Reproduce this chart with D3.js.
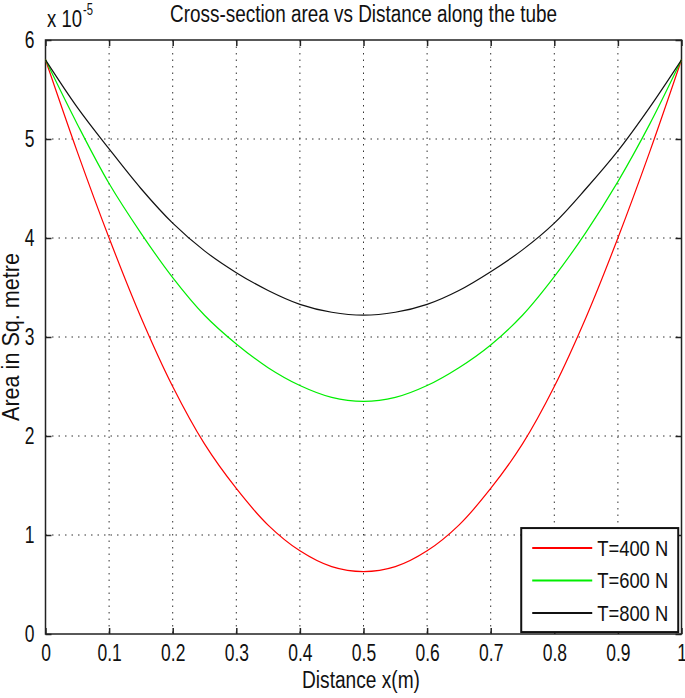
<!DOCTYPE html>
<html>
<head>
<meta charset="utf-8">
<script src="https://cdn.jsdelivr.net/npm/d3@7"></script>
<style>
  body { margin: 0; background: #fff; }
  svg text { font-family: "Liberation Sans", Arial, sans-serif; fill: #111; }
</style>
</head>
<body>
<div id="chart"></div>
<script>
// distance along the tube (m)
var distance = [0, 0.05, 0.1, 0.15, 0.2, 0.25, 0.3, 0.35, 0.4, 0.45, 0.5,
                0.55, 0.6, 0.65, 0.7, 0.75, 0.8, 0.85, 0.9, 0.95, 1];

// area values, in units of 1e-5 sq. metre
var areaT400 = [5.8, 4.87, 4.0, 3.2, 2.5, 1.92, 1.47, 1.1, 0.84, 0.68, 0.63,
                0.68, 0.84, 1.1, 1.47, 1.92, 2.5, 3.2, 4.0, 4.87, 5.8];
var areaT600 = [5.8, 5.15, 4.55, 4.05, 3.6, 3.22, 2.93, 2.69, 2.51, 2.39, 2.35,
                2.39, 2.51, 2.69, 2.92, 3.22, 3.61, 4.06, 4.57, 5.15, 5.8];
var areaT800 = [5.8, 5.32, 4.9, 4.5, 4.15, 3.87, 3.65, 3.47, 3.33, 3.25, 3.22,
                3.25, 3.33, 3.47, 3.66, 3.88, 4.15, 4.5, 4.88, 5.32, 5.8];

var seriesNames = ["T=400 N", "T=600 N", "T=800 N"];
var seriesColors = ["#ff0000", "#00ee00", "#111111"];

var xTicks = [0, 0.1, 0.2, 0.3, 0.4, 0.5, 0.6, 0.7, 0.8, 0.9, 1];
var yTicks = [0, 1, 2, 3, 4, 5, 6];

var width = 685, height = 698;
var margin = {top: 40, right: 3.5, bottom: 64, left: 45.5};
var plotW = width - margin.left - margin.right;
var plotH = height - margin.top - margin.bottom;
var FONT = 23;

// the original font is tall and narrow: squeeze text horizontally
function squeeze(sel, k) {
    sel.each(function() {
        var w = this.getComputedTextLength();
        d3.select(this).attr("textLength", w * k).attr("lengthAdjust", "spacingAndGlyphs");
    });
}

var svg = d3.select("#chart").append("svg")
    .attr("width", width)
    .attr("height", height);

var g = svg.append("g")
    .attr("transform", "translate(" + margin.left + "," + margin.top + ")");

var x = d3.scaleLinear().domain([0, 1]).range([0, plotW]);
var y = d3.scaleLinear().domain([0, 6]).range([plotH, 0]);

// dotted grid
g.selectAll(".vgrid")
    .data(xTicks.slice(1, -1))
    .enter().append("line")
    .attr("x1", function(d) { return x(d); })
    .attr("x2", function(d) { return x(d); })
    .attr("y1", 0).attr("y2", plotH)
    .attr("stroke", "#333").attr("stroke-dasharray", "1.5,5");

g.selectAll(".hgrid")
    .data(yTicks.slice(1, -1))
    .enter().append("line")
    .attr("y1", function(d) { return y(d); })
    .attr("y2", function(d) { return y(d); })
    .attr("x1", 0).attr("x2", plotW)
    .attr("stroke", "#333").attr("stroke-dasharray", "1.5,5");

// axes, ticks inward on all four sides
var fmt = function(d) { return d3.format("")(d); };
var axBottom = g.append("g").attr("transform", "translate(0," + plotH + ")")
    .call(d3.axisBottom(x).tickValues(xTicks).tickSize(-6).tickPadding(11).tickFormat(fmt));
var axTop = g.append("g")
    .call(d3.axisTop(x).tickValues(xTicks).tickSize(-6).tickFormat(""));
var axLeft = g.append("g")
    .call(d3.axisLeft(y).tickValues(yTicks).tickSize(-6).tickPadding(11).tickFormat(fmt));
var axRight = g.append("g").attr("transform", "translate(" + plotW + ",0)")
    .call(d3.axisRight(y).tickValues(yTicks).tickSize(-6).tickFormat(""));

[axBottom, axTop, axLeft, axRight].forEach(function(a) {
    a.select(".domain").remove();
    a.selectAll(".tick line").attr("stroke", "#222").attr("stroke-width", 1.5);
    a.selectAll("text").style("font-size", FONT + "px").attr("fill", "#111");
});
axBottom.selectAll("text").attr("dy", "0.71em");
squeeze(axBottom.selectAll("text"), 0.76);
squeeze(axLeft.selectAll("text"), 0.76);

g.append("rect")
    .attr("width", plotW).attr("height", plotH)
    .attr("fill", "none").attr("stroke", "#222").attr("stroke-width", 1.5);

// curves
var allSeries = [areaT400, areaT600, areaT800];
var line = d3.line()
    .x(function(d, i) { return x(distance[i]); })
    .y(function(d) { return y(d); })
    .curve(d3.curveCatmullRom);

g.selectAll(".curve")
    .data(allSeries)
    .enter().append("path")
    .attr("class", "curve")
    .attr("d", line)
    .attr("fill", "none")
    .attr("stroke", function(d, i) { return seriesColors[i]; })
    .attr("stroke-width", 1.2);

// legend
var legend = g.append("g").attr("transform", "translate(" + (x(0.748)) + "," + (y(1.07)) + ")");
legend.append("rect")
    .attr("width", 157).attr("height", 104)
    .attr("fill", "#fff").attr("stroke", "#111").attr("stroke-width", 2);

var legendRow = legend.selectAll(".legendRow")
    .data(seriesNames)
    .enter().append("g")
    .attr("transform", function(d, i) { return "translate(0," + (20 + i * 32.5) + ")"; });

legendRow.append("line")
    .attr("x1", 11).attr("x2", 71)
    .attr("stroke", function(d, i) { return seriesColors[i]; })
    .attr("stroke-width", 2);

legendRow.append("text")
    .attr("x", 76).attr("dy", "0.36em")
    .style("font-size", "22px")
    .attr("textLength", 71).attr("lengthAdjust", "spacingAndGlyphs")
    .text(function(d) { return d; });

// title and labels
svg.append("text")
    .attr("x", margin.left + plotW / 2).attr("y", 22)
    .attr("text-anchor", "middle")
    .style("font-size", FONT + "px")
    .attr("textLength", 387).attr("lengthAdjust", "spacingAndGlyphs")
    .text("Cross-section area vs Distance along the tube");

var expo = svg.append("text")
    .attr("x", 47).attr("y", 27)
    .style("font-size", FONT + "px");
expo.append("tspan")
    .attr("textLength", 35).attr("lengthAdjust", "spacingAndGlyphs")
    .text("x 10");
expo.append("tspan").attr("dx", 1).attr("dy", -12).style("font-size", "16px")
    .attr("textLength", 10).attr("lengthAdjust", "spacingAndGlyphs")
    .text("-5");

svg.append("text")
    .attr("x", 361).attr("y", 688)
    .attr("text-anchor", "middle")
    .style("font-size", FONT + "px")
    .attr("textLength", 118).attr("lengthAdjust", "spacingAndGlyphs")
    .text("Distance x(m)");

svg.append("text")
    .attr("transform", "translate(19," + (margin.top + plotH / 2) + ") rotate(-90)")
    .attr("text-anchor", "middle")
    .style("font-size", FONT + "px")
    .attr("textLength", 168).attr("lengthAdjust", "spacingAndGlyphs")
    .text("Area in Sq. metre");
</script>
</body>
</html>
